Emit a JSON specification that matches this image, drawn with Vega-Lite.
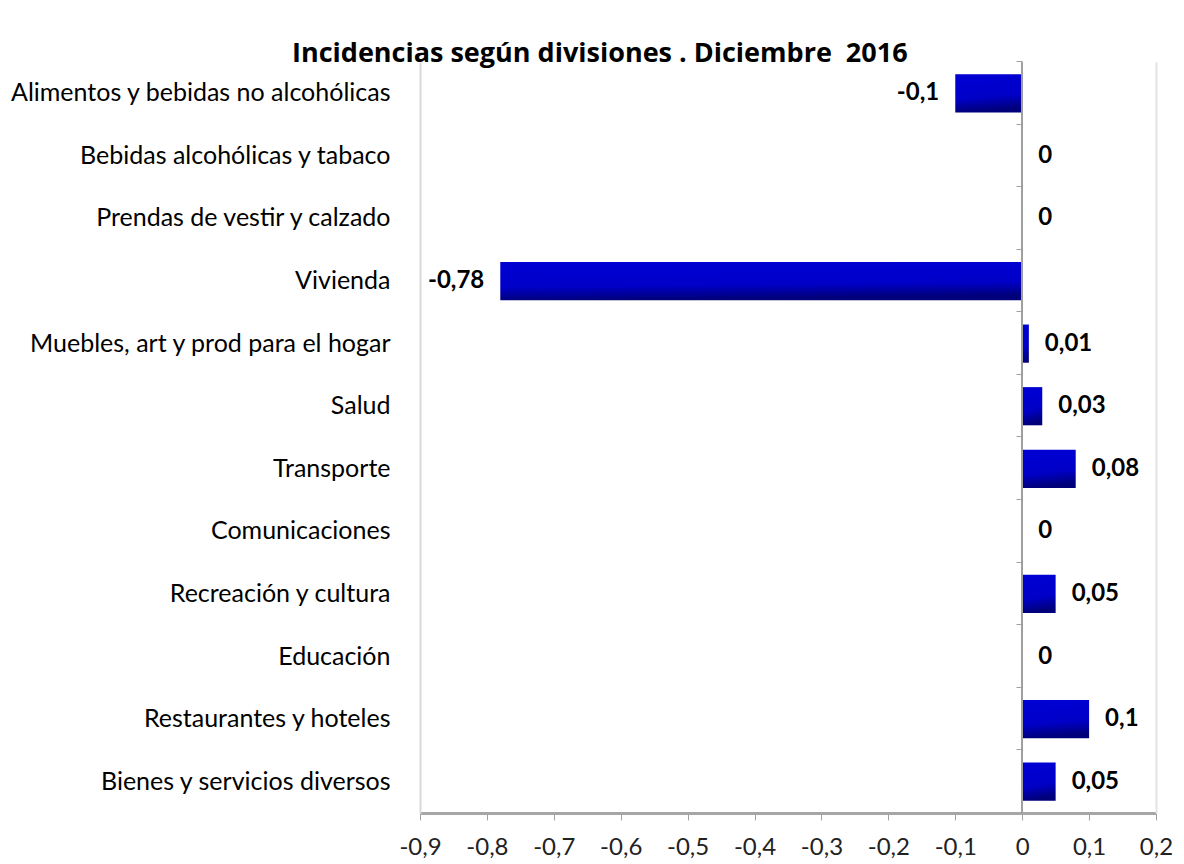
{
  "$schema": "https://vega.github.io/schema/vega-lite/v6.json",
  "width": 736,
  "height": 751,
  "autosize": "none",
  "padding": {"left": 420, "top": 62, "right": 28, "bottom": 51},
  "background": "white",
  "config": {
    "locale": {"number": {"decimal": ",", "thousands": ".", "grouping": [3], "currency": ["", ""], "minus": "-"}},
    "view": {"stroke": null},
    "font": "Lato"
  },
  "title": {
    "text": "Incidencias según divisiones . Diciembre \u00a02016",
    "anchor": "start",
    "frame": "group",
    "dx": -128,
    "fontSize": 27,
    "fontWeight": "bold",
    "font": "Open Sans",
    "color": "black",
    "offset": -7
  },
  "data": {
    "values": [
      {"division": "Alimentos y bebidas no alcohólicas", "incidencia": -0.1},
      {"division": "Bebidas alcohólicas y tabaco", "incidencia": 0},
      {"division": "Prendas de vestir y calzado", "incidencia": 0},
      {"division": "Vivienda", "incidencia": -0.78},
      {"division": "Muebles, art y prod para el hogar", "incidencia": 0.01},
      {"division": "Salud", "incidencia": 0.03},
      {"division": "Transporte", "incidencia": 0.08},
      {"division": "Comunicaciones", "incidencia": 0},
      {"division": "Recreación y cultura", "incidencia": 0.05},
      {"division": "Educación", "incidencia": 0},
      {"division": "Restaurantes y hoteles", "incidencia": 0.1},
      {"division": "Bienes y servicios diversos", "incidencia": 0.05}
    ]
  },
  "layer": [
    {
      "mark": {
        "type": "bar",
        "color": {
          "gradient": "linear",
          "x1": 0, "y1": 0, "x2": 0.15, "y2": 1,
          "stops": [
            {"offset": 0, "color": "#0000D4"},
            {"offset": 0.65, "color": "#0000C8"},
            {"offset": 1, "color": "#00007A"}
          ]
        }
      },
      "encoding": {
        "y": {
          "field": "division", "type": "nominal", "sort": null,
          "scale": {
            "domain": ["Alimentos y bebidas no alcohólicas", "Bebidas alcohólicas y tabaco", "Prendas de vestir y calzado", "Vivienda", "Muebles, art y prod para el hogar", "Salud", "Transporte", "Comunicaciones", "Recreación y cultura", "Educación", "Restaurantes y hoteles", "Bienes y servicios diversos"],
            "paddingInner": 0.39, "paddingOuter": 0.195
          },
          "axis": {
            "orient": "left",
            "title": null, "ticks": false, "labelFontSize": 25, "labelColor": "black",
            "labelPadding": 30, "labelLimit": 420, "domainColor": "#d9d9d9", "domainWidth": 2, "labelFont": "Lato"
          }
        },
        "x": {
          "field": "incidencia", "type": "quantitative",
          "scale": {"domain": [-0.9, 0.2], "nice": false, "zero": false},
          "axis": {
            "title": null, "grid": false,
            "values": [-0.9, -0.8, -0.7, -0.6, -0.5, -0.4, -0.3, -0.2, -0.1, 0, 0.1, 0.2],
            "format": ".1~f", "labelFontSize": 24, "labelColor": "#222222", "labelFont": "Lato",
            "labelFlush": false, "labelOverlap": false,
            "labelPadding": 15, "tickSize": 7, "tickColor": "#a0a0a0",
            "domainColor": "#a6a6a6", "domainWidth": 3
          }
        }
      }
    },
    {
      "mark": {"type": "rule", "color": "#a0a0a0", "strokeWidth": 1.5},
      "encoding": {"x": {"datum": 0, "type": "quantitative"}}
    },
    {
      "transform": [{"filter": "datum.incidencia >= 0"}],
      "mark": {"type": "text", "align": "left", "baseline": "middle", "dx": 16, "fontSize": 24, "fontWeight": "bold", "color": "black", "font": "Lato"},
      "encoding": {
        "y": {
          "field": "division", "type": "nominal", "sort": null,
          "axis": {
            "orient": "left",
            "title": null, "labels": false, "domain": false, "ticks": true,
            "bandPosition": -0.3333,
            "tickSize": 6, "tickColor": "#a0a0a0", "offset": -602
          }
        },
        "x": {"field": "incidencia", "type": "quantitative"},
        "text": {"field": "incidencia", "type": "quantitative", "format": ".2~f"}
      }
    },
    {
      "transform": [{"filter": "datum.incidencia < 0"}],
      "mark": {"type": "text", "align": "right", "baseline": "middle", "dx": -16, "fontSize": 24, "fontWeight": "bold", "color": "black", "font": "Lato"},
      "encoding": {
        "y": {
          "field": "division", "type": "nominal", "sort": null,
          "axis": {
            "orient": "right", "title": null, "labels": false, "ticks": false,
            "domainColor": "#e3e3e3", "domainWidth": 2
          }
        },
        "x": {"field": "incidencia", "type": "quantitative"},
        "text": {"field": "incidencia", "type": "quantitative", "format": ".2~f"}
      }
    }
  ],
  "resolve": {"axis": {"y": "independent"}}
}
